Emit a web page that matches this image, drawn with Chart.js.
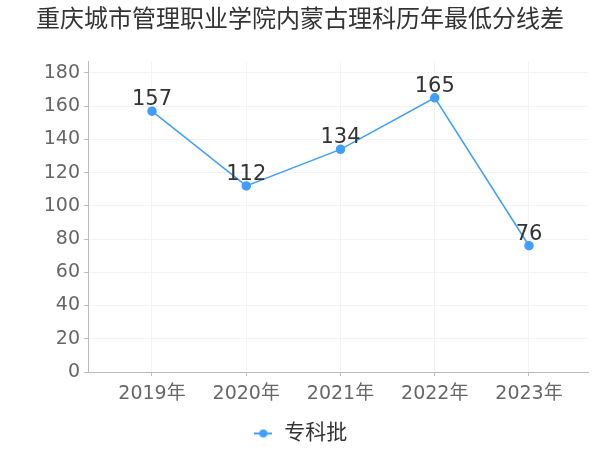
<!DOCTYPE html>
<html>
<head>
<meta charset="utf-8">
<script src="https://cdn.jsdelivr.net/npm/chart.js@4/dist/chart.umd.min.js"></script>
<style>
  html, body { margin:0; padding:0; background:#fff; }
  #wrap { width:600px; height:450px; }
</style>
</head>
<body>
<div id="wrap"><canvas id="c" width="600" height="450"></canvas></div>
<script>
const titleText = '重庆城市管理职业学院内蒙古理科历年最低分线差';
const years = ['2019年','2020年','2021年','2022年','2023年'];
const seriesName = '专科批';
const values = [157, 112, 134, 165, 76];
const yTicks = [0, 20, 40, 60, 80, 100, 120, 140, 160, 180];

const FONT = '"DejaVu Sans", "Noto Sans CJK SC", sans-serif';
const LINE = '#409EFF';

// legend marker: short line with a dot
const marker = document.createElement('canvas');
marker.width = 18; marker.height = 10;
(function(){
  const g = marker.getContext('2d');
  g.strokeStyle = LINE; g.lineWidth = 2;
  g.beginPath(); g.moveTo(0,5); g.lineTo(18,5); g.stroke();
  g.fillStyle = LINE; g.beginPath(); g.arc(9,5,4,0,Math.PI*2); g.fill();
})();

// ---- value labels above points
const valueLabels = {
  id: 'valueLabels',
  afterDatasetsDraw(chart){
    const ctx = chart.ctx;
    const meta = chart.getDatasetMeta(0);
    ctx.save();
    ctx.font = '21px ' + FONT;
    ctx.fillStyle = '#333';
    ctx.textAlign = 'center';
    ctx.textBaseline = 'bottom';
    meta.data.forEach((pt, i) => ctx.fillText(values[i], pt.x, pt.y - 1));
    ctx.restore();
  }
};

new Chart(document.getElementById('c'), {
  type: 'line',
  data: {
    datasets: [{
      label: seriesName,
      data: values.map((v,i) => ({ x: i, y: v })),
      borderColor: LINE,
      backgroundColor: LINE,
      borderWidth: 1.5,
      pointRadius: 4,
      pointHoverRadius: 4,
      tension: 0
    }]
  },
  options: {
    responsive: false,
    animation: false,
    layout: { padding: { left: 12, right: 12, top: 0, bottom: -4 } },
    scales: {
      x: {
        type: 'linear',
        min: -0.679, max: 4.626,
        afterFit: s => { s.height = 43; },
        ticks: {
          stepSize: 1, includeBounds: false, autoSkip: false, maxRotation: 0,
          color: '#666', font: { size: 19, family: FONT }, padding: 7,
          callback: v => years[v] ?? ''
        },
        grid: { color: '#f3f3f3', tickColor: '#bbb', tickLength: 4 },
        border: { color: '#bbb' }
      },
      y: {
        min: 0, max: 186.7,
        afterFit: s => { s.width = 76; },
        afterBuildTicks: s => { s.ticks = yTicks.map(v => ({ value: v })); },
        ticks: { color: '#666', font: { size: 19, family: FONT }, padding: 4 },
        grid: { color: '#f3f3f3', tickColor: '#bbb', tickLength: 4 },
        border: { color: '#bbb' }
      }
    },
    plugins: {
      title: {
        display: true, text: titleText, color: '#333',
        font: { size: 24, family: FONT, weight: 'normal' },
        padding: { top: 6, bottom: 27 }
      },
      legend: {
        position: 'bottom',
        labels: {
          color: '#333', font: { size: 21, family: FONT },
          usePointStyle: true, pointStyle: marker, padding: 8
        }
      },
      tooltip: { enabled: false }
    }
  },
  plugins: [valueLabels]
});
</script>
</body>
</html>
